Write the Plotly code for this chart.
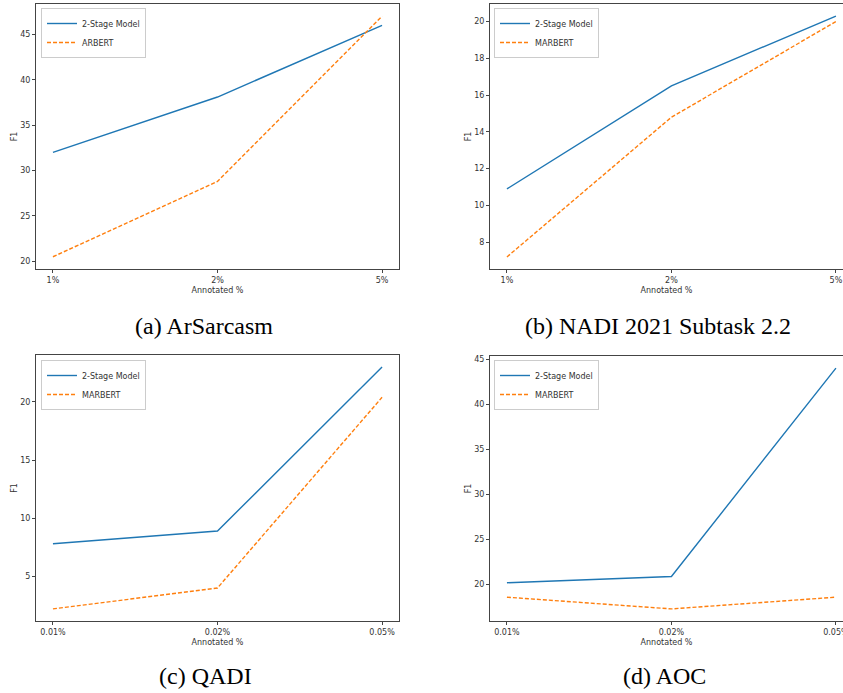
import plotly.graph_objects as go

# ---------------- data ----------------
cats_top = ["1%", "2%", "5%"]
cats_bottom = ["0.01%", "0.02%", "0.05%"]

arsarcasm_2stage = [32.0, 38.1, 46.0]
arsarcasm_arbert = [20.5, 28.8, 47.0]

nadi_2stage = [10.9, 16.5, 20.3]
nadi_marbert = [7.2, 14.8, 20.0]

qadi_2stage = [7.8, 8.9, 23.0]
qadi_marbert = [2.2, 4.0, 20.4]

aoc_2stage = [20.2, 20.9, 44.0]
aoc_marbert = [18.6, 17.3, 18.6]

captions = ["(a) ArSarcasm", "(b) NADI 2021 Subtask 2.2", "(c) QADI", "(d) AOC"]
series_names = [("2-Stage Model", "ARBERT"), ("2-Stage Model", "MARBERT"),
                ("2-Stage Model", "MARBERT"), ("2-Stage Model", "MARBERT")]

# ---------------- styling ----------------
W, H = 843, 693
BLUE = "#1f77b4"
ORANGE = "#ff7f0e"
TXT = "#333333"
AX = "#444444"
SANS = "DejaVu Sans"

panels = [
    dict(cats=cats_top, s1=arsarcasm_2stage, s2=arsarcasm_arbert,
         xpx=(36, 399), ypx=(4, 269), xr=[-0.103, 2.103], yr=[19.15, 48.35],
         dtick=5, full=True, leg=(41, 8), cap=(204, 326)),
    dict(cats=cats_top, s1=nadi_2stage, s2=nadi_marbert,
         xpx=(490, 843), ypx=(4, 269), xr=[-0.103, 2.043], yr=[6.545, 20.955],
         dtick=2, full=False, leg=(494, 8), cap=(658, 326)),
    dict(cats=cats_bottom, s1=qadi_2stage, s2=qadi_marbert,
         xpx=(36, 399), ypx=(355, 621), xr=[-0.103, 2.103], yr=[1.16, 24.04],
         dtick=5, full=True, leg=(41, 360), cap=(205, 676)),
    dict(cats=cats_bottom, s1=aoc_2stage, s2=aoc_marbert,
         xpx=(490, 843), ypx=(356, 621), xr=[-0.103, 2.043], yr=[15.96, 45.34],
         dtick=5, full=False, leg=(494, 360), cap=(664, 676)),
]

fig = go.Figure()
layout = dict(
    width=W, height=H, margin=dict(l=0, r=0, t=0, b=0, autoexpand=False),
    paper_bgcolor="white", plot_bgcolor="white",
    font=dict(family=SANS, size=8, color=TXT),
    showlegend=True, annotations=[],
)

for i, p in enumerate(panels):
    k = "" if i == 0 else str(i + 1)
    xa, ya = "x" + k, "y" + k
    legname = "legend" if i == 0 else "legend" + str(i + 1)
    n1, n2 = series_names[i]
    fig.add_trace(go.Scatter(x=p["cats"], y=p["s1"], mode="lines", name=n1,
                             line=dict(color=BLUE, width=1.4),
                             xaxis=xa, yaxis=ya, legend=legname))
    fig.add_trace(go.Scatter(x=p["cats"], y=p["s2"], mode="lines", name=n2,
                             line=dict(color=ORANGE, width=1.4, dash="4px,2px"),
                             xaxis=xa, yaxis=ya, legend=legname))
    layout["xaxis" + k] = dict(
        domain=[p["xpx"][0] / W, p["xpx"][1] / W], anchor=ya, automargin=False,
        type="category", categoryorder="array", categoryarray=p["cats"],
        range=p["xr"], showgrid=False, zeroline=False,
        showline=True, mirror=True, linecolor=AX, linewidth=1,
        ticks="outside", ticklen=3, tickcolor=AX,
        tickfont=dict(size=8, color=TXT),
        title=dict(text="Annotated %", font=dict(size=8, color=TXT), standoff=3),
    )
    layout["yaxis" + k] = dict(
        domain=[1 - p["ypx"][1] / H, 1 - p["ypx"][0] / H], anchor=xa, automargin=False,
        range=p["yr"], dtick=p["dtick"], showgrid=False, zeroline=False,
        showline=True, mirror=p["full"], linecolor=AX, linewidth=1,
        ticks="outside", ticklen=3, tickcolor=AX,
        tickfont=dict(size=8, color=TXT),
        title=dict(text="F1", font=dict(size=8, color=TXT), standoff=1),
    )
    layout[legname] = dict(
        x=p["leg"][0] / W, y=1 - p["leg"][1] / H, xanchor="left", yanchor="top",
        bgcolor="rgba(255,255,255,0.85)", bordercolor="#cccccc", borderwidth=1,
        font=dict(size=8, color=TXT), tracegroupgap=0,
    )
    layout["annotations"].append(dict(
        text=captions[i], x=p["cap"][0] / W, y=1 - p["cap"][1] / H,
        xref="paper", yref="paper", xanchor="center", yanchor="middle",
        showarrow=False, font=dict(family="Liberation Serif", size=24, color="black"),
    ))

fig.update_layout(**layout)
fig.write_html("out.html",
               config={"displayModeBar": False},
               post_script="document.body.style.margin='0';document.body.style.overflow='hidden';")
